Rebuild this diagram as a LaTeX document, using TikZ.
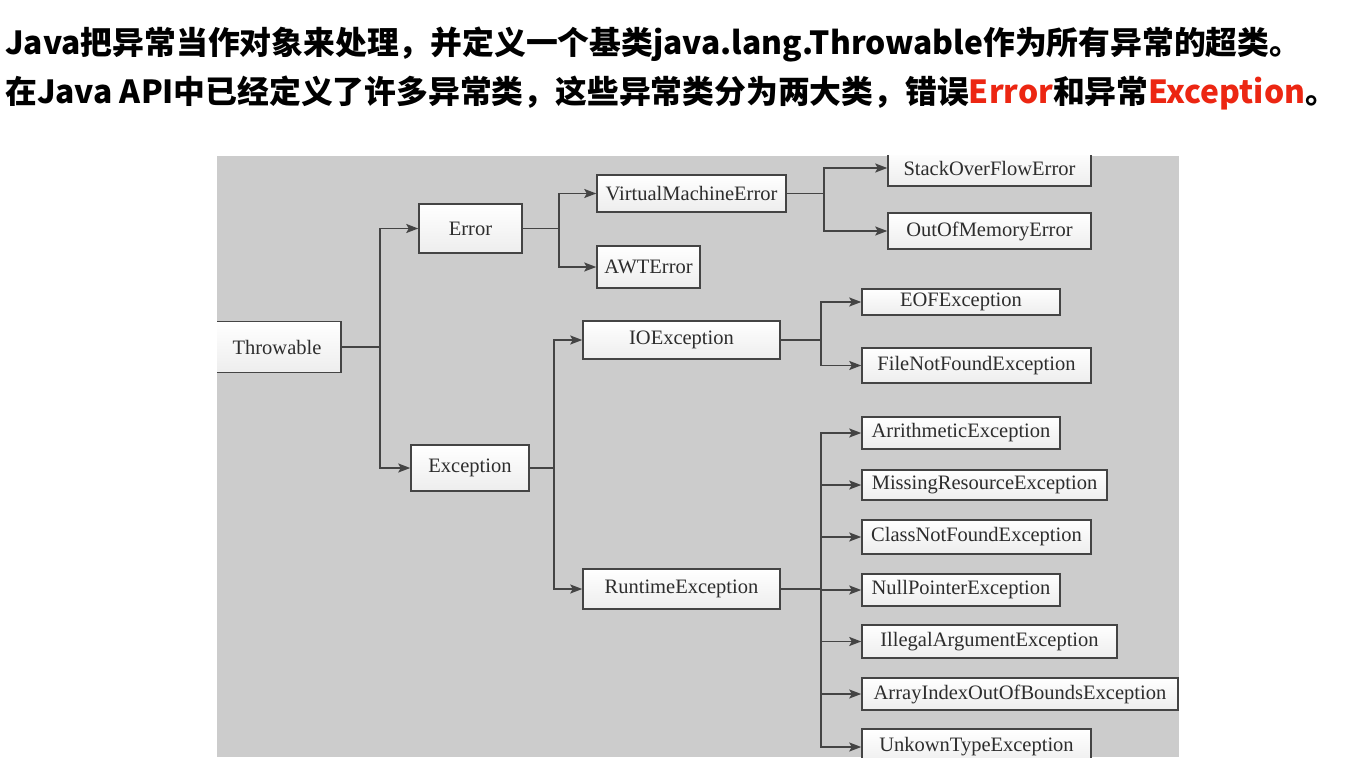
\documentclass[tikz,border=0pt]{standalone}
\usepackage{fontspec}
\newfontfamily\cjk{Noto Sans CJK SC}
\newfontfamily\clsfont{Liberation Serif}
\usetikzlibrary{arrows.meta}

\definecolor{panelgray}{RGB}{204,204,204}
\definecolor{wire}{RGB}{68,68,68}
\definecolor{clstext}{RGB}{45,45,45}
\definecolor{hot}{RGB}{236,38,18}

\tikzset{
  headline/.style={anchor=west, inner sep=0pt, font=\cjk\bfseries\fontsize{31.8}{36}\selectfont},
  cls/.style={draw=wire, line width=1.5pt, top color=white, bottom color=black!7, text=clstext, inner sep=0pt, font=\clsfont\fontsize{20.5}{24}\selectfont},
  link/.style={draw=wire, line width=1.8pt, -{Stealth[length=12pt,width=9pt,inset=2.5pt]}}
}

\begin{document}
\begin{tikzpicture}[x=1pt,y=1pt,yscale=-1,xscale=1]
\useasboundingbox (0,0) rectangle (1355,781);

% Text Node
\node[headline] (line1) at (5,45) {Java把异常当作对象来处理，并定义一个基类java.lang.Throwable作为所有异常的超类。};
% Text Node
\node[headline] (line2) at (5,93) {在Java API中已经定义了许多异常类，这些异常类分为两大类，错误{\color{hot}Error}和异常{\color{hot}Exception}。};

%Shape: Rectangle
\fill[panelgray] (217,156) rectangle (1179,757);

\begin{scope}
\clip (217,156) rectangle (1179,757);

%Shape: Rectangle
\node[cls, minimum width=128, minimum height=51] (throw) at (277,347) {Throwable};
\node[cls, minimum width=103, minimum height=49] (err) at (470.5,228.5) {Error};
\node[cls, minimum width=118, minimum height=46] (exc) at (470,468) {Exception};
\node[cls, minimum width=189, minimum height=37] (vme) at (691.5,193.5) {VirtualMachineError};
\node[cls, minimum width=103, minimum height=42] (awt) at (648.5,267) {AWTError};
\node[cls, minimum width=203, minimum height=36] (sof) at (989.5,168) {StackOverFlowError};
\node[cls, minimum width=203, minimum height=36] (oom) at (989.5,231) {OutOfMemoryError};
\node[cls, minimum width=197, minimum height=38] (ioe) at (681.5,340) {IOException};
\node[cls, minimum width=198, minimum height=26] (eof) at (961,302) {EOFException};
\node[cls, minimum width=229, minimum height=35] (fnf) at (976.5,365.5) {FileNotFoundException};
\node[cls, minimum width=197, minimum height=40] (rte) at (681.5,589) {RuntimeException};
\node[cls, minimum width=198, minimum height=32] (ari) at (961,433) {ArrithmeticException};
\node[cls, minimum width=245, minimum height=30] (mis) at (984.5,485) {MissingResourceException};
\node[cls, minimum width=229, minimum height=34] (cnf) at (976.5,537) {ClassNotFoundException};
\node[cls, minimum width=198, minimum height=32] (npe) at (961,590) {NullPointerException};
\node[cls, minimum width=255, minimum height=33] (iae) at (989.5,641.5) {IllegalArgumentException};
\node[cls, minimum width=316, minimum height=32] (aio) at (1020,694) {ArrayIndexOutOfBoundsException};
\node[cls, minimum width=229, minimum height=36] (ute) at (976.5,747) {UnkownTypeException};

%Straight Lines
\draw[link] (throw.east) -- ++(38,0) |- (err.west);
\draw[link] (throw.east) -- ++(38,0) |- (exc.west);
\draw[link] (err.east) -- ++(36,0) |- (vme.west);
\draw[link] (err.east) -- ++(36,0) |- (awt.west);
\draw[link] (exc.east) -- ++(24,0) |- (ioe.west);
\draw[link] (exc.east) -- ++(24,0) |- (rte.west);
\draw[link] (vme.east) -- ++(37,0) |- (sof.west);
\draw[link] (vme.east) -- ++(37,0) |- (oom.west);
\draw[link] (ioe.east) -- ++(40,0) |- (eof.west);
\draw[link] (ioe.east) -- ++(40,0) |- (fnf.west);
\foreach \kid in {ari,mis,cnf,npe,iae,aio,ute}
  \draw[link] (rte.east) -- ++(40,0) |- (\kid.west);

\end{scope}

\end{tikzpicture}
\end{document}
